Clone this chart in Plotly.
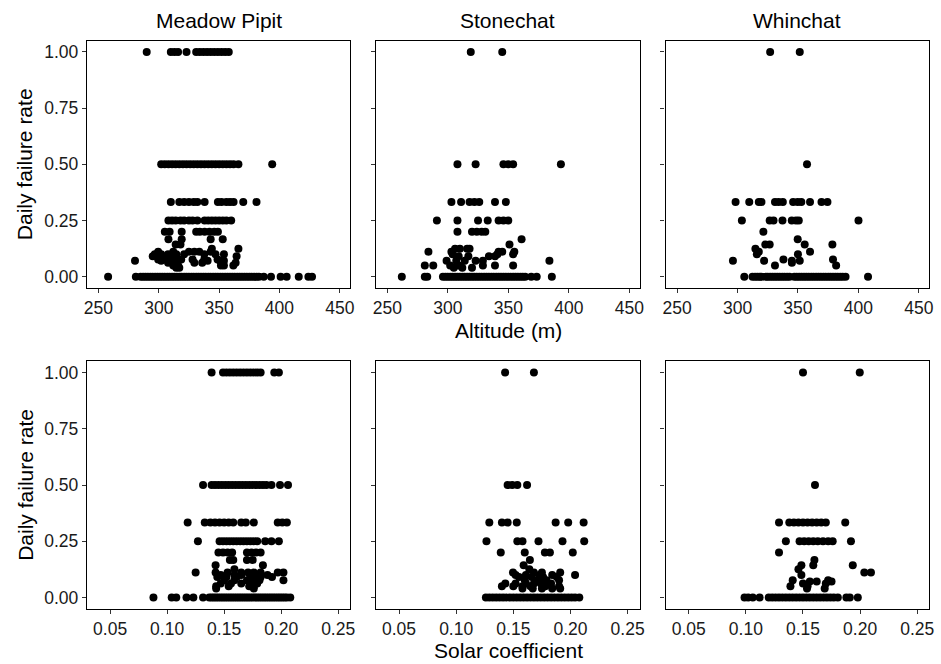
import plotly.graph_objects as go

# Daily nest failure rate against site altitude and solar coefficient, by species.
species = ["Meadow Pipit", "Stonechat", "Whinchat"]

altitude_ticks = [250, 300, 350, 400, 450]
solar_ticks = [0.05, 0.10, 0.15, 0.20, 0.25]
rate_ticks = [0.00, 0.25, 0.50, 0.75, 1.00]

# Each entry: failure rate -> list of x values recorded at that rate.
meadow_altitude = {
    1.0: [290, 310, 313, 316, 323, 331, 334, 337, 340, 343, 346, 349, 352, 355, 358],
    0.5: [302, 305, 308, 311, 314, 317, 320, 323, 326, 329, 332, 335, 338, 341, 344,
          347, 350, 353, 356, 359, 362, 366, 394],
    0.333: [310, 317, 321, 325, 329, 332, 338, 349, 352, 356, 359, 362, 370, 381],
    0.25: [308, 311, 314, 318, 321, 325, 328, 332, 338, 341, 344, 347, 350, 353, 356, 360],
    0.2: [305, 309, 319, 331, 334, 338, 342, 346, 349],
    0.167: [308, 319, 343, 353],
    0.143: [314, 318],
    0.125: [344, 366],
    0.111: [299.5, 312, 325, 329.5, 333.6, 343],
    0.1: [296.7, 302, 307.7, 314.5, 321, 337.7, 347, 354],
    0.091: [295, 313, 364.5],
    0.077: [299.5, 305, 310.5, 318.6, 328, 337.7, 348.7],
    0.071: [280.3, 302, 314.5, 340.5, 350.8, 354],
    0.0625: [307.7, 313, 329.5, 336, 363.7],
    0.05: [312, 316, 351.5, 354, 361.8],
    0.04: [314.5, 317],
    0.0: [258, 281, 285, 287, 289, 291, 293, 295, 297, 299, 301, 303, 305, 307, 309,
          311, 313, 315, 317, 319, 321, 323, 325, 327, 329, 331, 333, 335, 337, 339,
          341, 343, 345, 347, 349, 351, 353, 355, 357, 359, 361, 363, 365, 367, 369,
          371, 373, 375, 377, 379, 381, 383, 387, 393, 401, 406, 416, 424, 427],
}

stonechat_altitude = {
    1.0: [319, 345],
    0.5: [308, 323, 346, 350, 354, 393.5],
    0.333: [303, 311, 318, 322, 326, 339, 348],
    0.25: [291, 308, 325, 333, 342, 346, 350],
    0.2: [308, 320, 324, 328, 331],
    0.167: [361],
    0.143: [351],
    0.125: [306, 310, 316, 318],
    0.111: [284, 303, 342, 345, 355],
    0.1: [304, 341, 354],
    0.091: [309, 317, 334, 339],
    0.071: [299, 307, 314, 323, 329, 384],
    0.05: [281, 288, 302, 309, 329, 339, 354],
    0.04: [305, 312, 320],
    0.0: [262, 281, 283, 296, 298, 300, 302, 304, 306, 308, 310, 312, 314, 316, 318,
          320, 322, 324, 326, 328, 330, 332, 334, 336, 338, 340, 342, 344, 346, 348,
          350, 352, 354, 356, 358, 360, 362, 364, 369, 373.5, 386],
}

whinchat_altitude = {
    1.0: [327, 351.5],
    0.5: [357.5],
    0.333: [298.4, 309.7, 317.6, 319.8, 331, 334, 337.5, 346, 349.8, 352.8, 360,
            369.5, 374.4],
    0.25: [303.6, 326.6, 329.8, 337.2, 344.9, 348.4, 350.7, 400.1],
    0.2: [321.4],
    0.167: [349.8],
    0.143: [323, 326.6, 355.6, 378.5],
    0.125: [314.8],
    0.111: [317.6, 360],
    0.1: [316, 350],
    0.077: [338, 379],
    0.071: [296.2, 322, 345, 351.5],
    0.0625: [345],
    0.05: [331, 381.6],
    0.0: [305.6, 312.4, 314.5, 316.5, 318.5, 320, 323.3, 325, 327, 329, 331, 333,
          335, 337, 339, 341, 343, 347, 349, 351, 353, 355, 357, 359, 361, 363, 365,
          367, 369, 371, 373, 375, 377, 379, 381, 383, 385, 387, 389.4, 408],
}

meadow_solar = {
    1.0: [0.139, 0.149, 0.152, 0.155, 0.158, 0.161, 0.164, 0.167, 0.170, 0.173, 0.176,
          0.179, 0.182, 0.194, 0.198],
    0.5: [0.1315, 0.139, 0.142, 0.145, 0.148, 0.151, 0.154, 0.157, 0.160, 0.163, 0.166,
          0.169, 0.172, 0.175, 0.178, 0.181, 0.184, 0.187, 0.1915, 0.199, 0.206],
    0.333: [0.118, 0.133, 0.138, 0.142, 0.146, 0.150, 0.154, 0.158, 0.165, 0.169, 0.176,
            0.197, 0.201, 0.205],
    0.25: [0.127, 0.146, 0.149, 0.152, 0.155, 0.158, 0.161, 0.164, 0.167, 0.170, 0.173,
           0.176, 0.179, 0.186, 0.1915, 0.198],
    0.2: [0.145, 0.149, 0.153, 0.157, 0.170, 0.174, 0.178, 0.182],
    0.167: [0.155, 0.158, 0.170, 0.175],
    0.143: [0.1425, 0.184],
    0.125: [0.159],
    0.111: [0.125, 0.1425, 0.153, 0.165, 0.171, 0.176, 0.182, 0.197, 0.202],
    0.1: [0.147, 0.159, 0.165, 0.179, 0.188],
    0.091: [0.144, 0.152, 0.161, 0.173, 0.182, 0.192],
    0.077: [0.150, 0.159, 0.170, 0.175, 0.181, 0.202],
    0.0625: [0.147, 0.156, 0.165, 0.173, 0.179],
    0.05: [0.143, 0.154, 0.172, 0.176],
    0.04: [0.143, 0.176],
    0.0: [0.088, 0.104, 0.108, 0.117, 0.123, 0.1315, 0.137, 0.139, 0.141, 0.143, 0.145,
          0.147, 0.149, 0.151, 0.153, 0.155, 0.157, 0.159, 0.161, 0.163, 0.165, 0.167,
          0.169, 0.171, 0.173, 0.175, 0.177, 0.179, 0.181, 0.183, 0.185, 0.187, 0.189,
          0.191, 0.193, 0.195, 0.197, 0.199, 0.201, 0.203, 0.205, 0.208],
}

stonechat_solar = {
    1.0: [0.1428, 0.168],
    0.5: [0.145, 0.149, 0.1535, 0.162],
    0.333: [0.129, 0.140, 0.145, 0.153, 0.187, 0.198, 0.2115],
    0.25: [0.1265, 0.1535, 0.158, 0.172, 0.193, 0.212],
    0.2: [0.139, 0.160, 0.1776, 0.182, 0.202],
    0.167: [0.1645],
    0.143: [0.159],
    0.125: [0.164],
    0.111: [0.1497, 0.168, 0.175, 0.191],
    0.1: [0.152, 0.161, 0.173, 0.184, 0.204],
    0.091: [0.155, 0.166, 0.176, 0.188],
    0.077: [0.160, 0.170, 0.179, 0.190],
    0.0625: [0.143, 0.152, 0.161, 0.168, 0.174, 0.183],
    0.05: [0.140, 0.150, 0.158, 0.165, 0.178, 0.190],
    0.04: [0.158, 0.167, 0.175, 0.184, 0.191],
    0.0: [0.126, 0.129, 0.132, 0.135, 0.138, 0.141, 0.144, 0.147, 0.150, 0.153, 0.156,
          0.159, 0.162, 0.165, 0.168, 0.171, 0.174, 0.177, 0.180, 0.183, 0.186, 0.189,
          0.192, 0.195, 0.198, 0.201, 0.204, 0.2077],
}

whinchat_solar = {
    1.0: [0.150, 0.1997],
    0.5: [0.1605],
    0.333: [0.129, 0.138, 0.142, 0.146, 0.150, 0.154, 0.158, 0.162, 0.166, 0.170, 0.187],
    0.25: [0.135, 0.147, 0.151, 0.155, 0.159, 0.163, 0.1675, 0.172, 0.176, 0.192],
    0.2: [0.129],
    0.167: [0.160],
    0.143: [0.1486, 0.159, 0.1936],
    0.125: [0.146],
    0.111: [0.2037, 0.2095],
    0.1: [0.1486],
    0.077: [0.141, 0.172],
    0.071: [0.156, 0.162, 0.175],
    0.0625: [0.150, 0.170],
    0.05: [0.139, 0.154],
    0.04: [0.1535, 0.169],
    0.0: [0.0988, 0.102, 0.106, 0.112, 0.120, 0.123, 0.126, 0.129, 0.132, 0.135, 0.138,
          0.141, 0.144, 0.147, 0.150, 0.153, 0.156, 0.159, 0.162, 0.165, 0.168, 0.171,
          0.174, 0.177, 0.1805, 0.188, 0.191, 0.198],
}

panels = [
    [meadow_altitude, stonechat_altitude, whinchat_altitude],
    [meadow_solar, stonechat_solar, whinchat_solar],
]

W, H = 941, 664
col_px = [(84.7, 350.0), (376.0, 642.0), (668.3, 934.0)]
row_px = [(40.7, 288.0), (361.3, 608.7)]

FONT = "Liberation Sans, Arial, sans-serif"
TICK_FONT = dict(family=FONT, size=17.5, color="#1a1a1a")
TITLE_SIZE = 21

fig = go.Figure()
layout = dict(
    width=W, height=H,
    margin=dict(l=0, r=0, t=0, b=0),
    paper_bgcolor="white", plot_bgcolor="white",
    showlegend=False,
    annotations=[],
)

axis_common = dict(
    showline=True, linecolor="black", linewidth=1.3, mirror=True,
    ticks="outside", ticklen=4, tickwidth=1, tickcolor="#333333",
    showgrid=False, zeroline=False, tickfont=TICK_FONT,
)

n = 0
for r in range(2):
    for c in range(3):
        n += 1
        xa = "x" if n == 1 else f"x{n}"
        ya = "y" if n == 1 else f"y{n}"
        data = panels[r][c]
        xs, ys = [], []
        for rate, vals in data.items():
            xs.extend(vals)
            ys.extend([rate] * len(vals))
        fig.add_trace(go.Scatter(
            x=xs, y=ys, mode="markers", xaxis=xa, yaxis=ya,
            marker=dict(color="black", size=8, line=dict(width=0)),
            hoverinfo="skip",
        ))
        x0, x1 = col_px[c]
        y0, y1 = row_px[r]
        xdom = [x0 / W, x1 / W]
        ydom = [1 - y1 / H, 1 - y0 / H]
        if r == 0:
            xr = [240.5, 458.5]
            xt = dict(tickvals=altitude_ticks, ticktext=[str(v) for v in altitude_ticks])
        else:
            xr = [0.0297, 0.2604]
            xt = dict(tickvals=solar_ticks, ticktext=[f"{v:.2f}" for v in solar_ticks])
        layout["xaxis" if n == 1 else f"xaxis{n}"] = dict(
            axis_common, domain=xdom, range=xr, anchor=ya, **xt)
        layout["yaxis" if n == 1 else f"yaxis{n}"] = dict(
            axis_common, domain=ydom, range=[-0.05, 1.05], anchor=xa,
            tickvals=rate_ticks, ticktext=[f"{v:.2f}" for v in rate_ticks],
            showticklabels=(c == 0))

# Species labels above the top row
for c, name in enumerate(species):
    x0, x1 = col_px[c]
    layout["annotations"].append(dict(
        text=name, x=(x0 + x1) / 2 / W, y=1 - 20 / H, xref="paper", yref="paper",
        showarrow=False, xanchor="center", yanchor="middle",
        font=dict(family=FONT, size=TITLE_SIZE, color="black")))

# Shared axis titles
mid_x = (col_px[0][0] + col_px[2][1]) / 2 / W
for label, ypx in [("Altitude (m)", 330), ("Solar coefficient", 650)]:
    layout["annotations"].append(dict(
        text=label, x=mid_x, y=1 - ypx / H, xref="paper", yref="paper",
        showarrow=False, xanchor="center", yanchor="middle",
        font=dict(family=FONT, size=TITLE_SIZE, color="black")))
for r in range(2):
    y0, y1 = row_px[r]
    layout["annotations"].append(dict(
        text="Daily failure rate", x=22 / W, y=1 - (y0 + y1) / 2 / H,
        xref="paper", yref="paper", showarrow=False, textangle=-90,
        xanchor="center", yanchor="middle",
        font=dict(family=FONT, size=TITLE_SIZE, color="black")))

fig.update_layout(**layout)
fig.write_html("out.html")
